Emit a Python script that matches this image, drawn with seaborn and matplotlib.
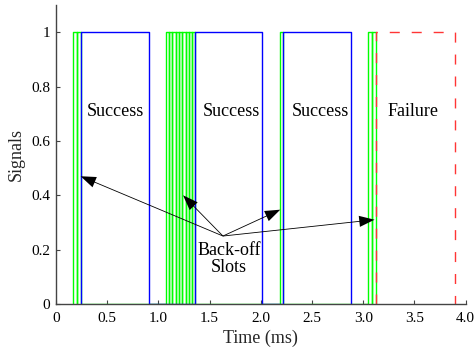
import numpy as np
import pandas as pd
import matplotlib
matplotlib.use("Agg")
import matplotlib.pyplot as plt
import seaborn as sns

# Back-off slot boundaries (ms) for each contention period
slots_1 = [0.17, 0.205, 0.24]
slots_2 = [1.07, 1.103, 1.135, 1.168, 1.200, 1.233, 1.265, 1.298, 1.330, 1.360]
slots_3 = [2.19, 2.22]
slots_4 = [3.05, 3.09, 3.125]

# Data transmission (step signal) edges and levels
tx_t = [0.24, 0.24, 0.905, 0.905, 1.36, 1.36, 2.015, 2.015, 2.22, 2.22, 2.884, 2.884]
tx_y = [0, 1, 1, 0, 0, 1, 1, 0, 0, 1, 1, 0]

# Collided (failed) transmission
fail_t = [3.125, 3.125, 3.90, 3.90]
fail_y = [0, 1, 1, 0]

# Text annotations
labels = ["Success", "Success", "Success", "Failure"]
label_x = [0.576, 1.71, 2.58, 3.49]
label_y = 0.71

arrow_origin = (1.63, 0.25)
arrow_tips_x = [0.24, 1.24, 2.19, 3.11]
arrow_tips_y = [0.47, 0.40, 0.347, 0.31]

x_ticks = [0, 0.5, 1.0, 1.5, 2.0, 2.5, 3.0, 3.5, 4.0]
x_ticklabels = ["0", "0.5", "1.0", "1.5", "2.0", "2.5", "3.0", "3.5", "4.0"]
y_ticks = [0, 0.2, 0.4, 0.6, 0.8, 1]
y_ticklabels = ["0", "0.2", "0.4", "0.6", "0.8", "1"]


def slot_pulses(groups):
    """Build a pulse train polyline: one rectangular pulse per back-off slot."""
    t, y = [], []
    for bounds in groups:
        for a, b in zip(bounds[:-1], bounds[1:]):
            t += [a, a, b, b]
            y += [0, 1, 1, 0]
    return t, y


bo_t, bo_y = slot_pulses([slots_1, slots_2, slots_3, slots_4])

df_bo = pd.DataFrame({"t": bo_t, "s": bo_y})
df_tx = pd.DataFrame({"t": tx_t, "s": tx_y})
df_fail = pd.DataFrame({"t": fail_t, "s": fail_y})

sns.set_theme(style="white")
plt.rcParams["font.family"] = ["Liberation Serif", "DejaVu Serif"]

fig = plt.figure(figsize=(4.75, 3.52), dpi=100)
ax = fig.add_axes([0.1179, 0.1364, 0.8625, 0.8494])

sns.lineplot(data=df_bo, x="t", y="s", sort=False, estimator=None,
             color="#00ff00", lw=1.0, ax=ax)
sns.lineplot(data=df_tx, x="t", y="s", sort=False, estimator=None,
             color="#0000ff", lw=1.0, ax=ax)
sns.lineplot(data=df_fail, x="t", y="s", sort=False, estimator=None,
             color="#ff3535", lw=1.0, ax=ax, dashes=False)
ax.lines[-1].set_dashes([7.2, 8.6])

for txt, xx in zip(labels, label_x):
    ax.text(xx, label_y, txt, ha="center", va="center", fontsize=13, color="black")

ax.text(1.69, 0.165, "Back-off\nSlots", ha="center", va="center",
        fontsize=13, color="black", linespacing=0.95)

for tx_, ty_ in zip(arrow_tips_x, arrow_tips_y):
    ax.annotate("", xy=(tx_, ty_), xytext=arrow_origin,
                arrowprops=dict(facecolor="black", edgecolor="none",
                                width=0.6, headwidth=8, headlength=11,
                                shrink=0.0))

ax.set_xlim(0, 4.0)
ax.set_ylim(0, 1.1)
ax.set_xticks(x_ticks)
ax.set_xticklabels(x_ticklabels)
ax.set_yticks(y_ticks)
ax.set_yticklabels(y_ticklabels)
ax.set_xlabel("Time (ms)", fontsize=13, labelpad=3)
ax.set_ylabel("Signals", fontsize=13, labelpad=5)

for side in ["top", "right"]:
    ax.spines[side].set_visible(False)
for side in ["left", "bottom"]:
    ax.spines[side].set_color("#444444")
    ax.spines[side].set_linewidth(1.0)

ax.tick_params(axis="both", direction="in", length=3, width=0.8,
               color="#444444", labelsize=11, labelcolor="black")
ax.tick_params(axis="x", pad=6)
ax.tick_params(axis="y", pad=4)
ax.tick_params(bottom=True, left=True)

fig.savefig("out.png", dpi=100)
